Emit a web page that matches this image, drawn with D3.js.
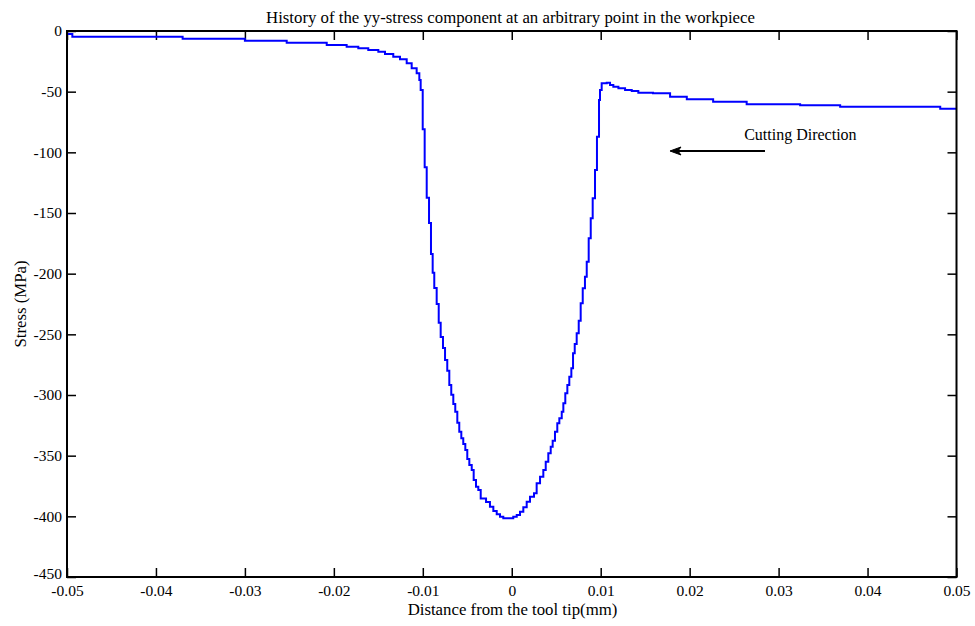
<!DOCTYPE html>
<html>
<head>
<meta charset="utf-8">
<script src="https://cdn.jsdelivr.net/npm/d3@7"></script>
<style>
  html, body { margin: 0; padding: 0; background: #fff; }
  svg { display: block; }
  text { font-family: "Liberation Serif", "Times New Roman", serif; fill: #000; }
</style>
</head>
<body>
<svg id="chart" width="975" height="626"></svg>
<script>
// ---- data ----
const distance = [
  -0.0500, -0.0494, -0.0370, -0.0300, -0.0253, -0.0208, -0.01856, -0.01725, -0.01613, -0.0150,
  -0.01425, -0.01332, -0.01256, -0.01181, -0.01125, -0.01069, -0.01039, -0.01024, -0.01001,
  -0.00979, -0.00956, -0.00930, -0.00908, -0.00889, -0.00871, -0.00844, -0.00821, -0.00799, -0.00773,
  -0.00750, -0.00725, -0.00702, -0.00680, -0.00657, -0.00635, -0.00612, -0.00590, -0.00567, -0.00545,
  -0.00522, -0.00500, -0.00477, -0.00450, -0.00428, -0.00402, -0.00376, -0.00349,
  -0.00289, -0.00245, -0.00207, -0.00169, -0.00132, -0.00095, -0.0002, 0.00017, 0.00056, 0.00093,
  0.0013, 0.00168, 0.00205, 0.0025, 0.0028, 0.00318, 0.00355, 0.00382, 0.00411, 0.00438,
  0.0046, 0.00486, 0.00512, 0.00535, 0.00562, 0.0058, 0.00602, 0.00625, 0.00647, 0.0067,
  0.00689, 0.00708, 0.0073, 0.00753, 0.00775, 0.00798, 0.00823, 0.00843, 0.00865, 0.00888,
  0.0091, 0.00936, 0.00958, 0.00981, 0.00992, 0.01011, 0.01068, 0.01105, 0.01142, 0.01199,
  0.01274, 0.01349, 0.01423, 0.01588, 0.0178, 0.01968, 0.02264, 0.02641, 0.03242, 0.03692,
  0.04817, 0.0500
];
const stress = [
  -2.5, -4.7, -6.3, -8.0, -9.6, -11.5, -12.9, -14.3, -15.7, -17.1,
  -19.0, -21.2, -23.3, -26.6, -30.7, -34.9, -40.4, -48.6, -81.0,
  -112.3, -137.4, -158.2, -183.8, -199.2, -211.8, -225.0, -240.4, -252.2, -261.3,
  -271.2, -280.0, -291.8, -299.8, -307.4, -313.8, -322.8, -330.3, -335.7, -340.4,
  -345.3, -352.8, -357.7, -361.8, -370.1, -375.6, -378.3, -385.2,
  -388.2, -392.1, -395.6, -398.3, -400.3, -401.6, -401.6, -400.3, -398.9, -396.2,
  -392.6, -388.0, -383.8, -381.0, -372.8, -367.3, -361.8, -355.0, -348.1, -342.6,
  -337.7, -330.3, -323.3, -319.2, -313.8, -306.9, -298.6, -291.8, -284.9, -278.0,
  -265.6, -258.0, -249.2, -238.8, -224.4, -212.1, -202.5, -190.1, -170.9, -154.4,
  -137.9, -114.6, -87.1, -56.9, -48.6, -43.1, -42.6, -44.5, -45.9, -47.2,
  -48.6, -49.5, -50.9, -51.3, -54.2, -56.3, -58.3, -60.4, -61.2, -62.4,
  -64.0, -64.0
];
const xTicks = [-0.05, -0.04, -0.03, -0.02, -0.01, 0, 0.01, 0.02, 0.03, 0.04, 0.05];
const xTickLabels = ["-0.05", "-0.04", "-0.03", "-0.02", "-0.01", "0", "0.01", "0.02", "0.03", "0.04", "0.05"];
const yTicks = [-450, -400, -350, -300, -250, -200, -150, -100, -50, 0];
const yTickLabels = ["-450", "-400", "-350", "-300", "-250", "-200", "-150", "-100", "-50", "0"];
const titleText = "History of the yy-stress component at an arbitrary point in the workpiece";
const xLabelText = "Distance from the tool tip(mm)";
const yLabelText = "Stress (MPa)";
const annotationText = "Cutting Direction";
const annotationTextPos = [0.02613, -89.8];
const arrowFrom = [0.02847, -98.9];
const arrowTo = [0.01779, -98.9];

// ---- layout ----
const W = 975, H = 626;
const pLeft = 67, pRight = 956.5, pTop = 31, pBottom = 577;
const fsTick = 15.5, fsLabel = 16.8, fsNote = 16;

const svg = d3.select("#chart");
svg.append("rect").attr("width", W).attr("height", H).attr("fill", "#fff");

const x = d3.scaleLinear().domain([-0.05, 0.05]).range([pLeft, pRight]);
const y = d3.scaleLinear().domain([-450, 0]).range([pBottom, pTop]);

const fmtX = d => xTickLabels[xTicks.indexOf(d)];
const fmtY = d => yTickLabels[yTicks.indexOf(d)];

// axes (ticks inward, box style)
const gB = svg.append("g").attr("transform", `translate(0,${pBottom})`)
  .call(d3.axisBottom(x).tickValues(xTicks).tickFormat(fmtX).tickSizeInner(-9).tickSizeOuter(0).tickPadding(8));
const gT = svg.append("g").attr("transform", `translate(0,${pTop})`)
  .call(d3.axisTop(x).tickValues(xTicks).tickFormat("").tickSizeInner(-9).tickSizeOuter(0));
const gL = svg.append("g").attr("transform", `translate(${pLeft},0)`)
  .call(d3.axisLeft(y).tickValues(yTicks).tickFormat(fmtY).tickSizeInner(-9).tickSizeOuter(0).tickPadding(5));
const gR = svg.append("g").attr("transform", `translate(${pRight},0)`)
  .call(d3.axisRight(y).tickValues(yTicks).tickFormat("").tickSizeInner(-9).tickSizeOuter(0));

[gB, gT, gL, gR].forEach(g => {
  g.select(".domain").remove();
  g.selectAll(".tick line").attr("stroke", "#000").attr("stroke-width", 1.5);
  g.selectAll(".tick text").attr("font-family", '"Liberation Serif", "Times New Roman", serif')
    .attr("font-size", fsTick).attr("fill", "#000");
});
// lowest y label sits just above the x tick labels
gL.selectAll(".tick text").filter(d => d === -450).attr("dy", "0.1em");

// data line
const pts = d3.zip(distance, stress);
const line = d3.line().x(d => x(d[0])).y(d => y(d[1])).curve(d3.curveStepAfter);
svg.append("path").datum(pts)
  .attr("d", line)
  .attr("fill", "none")
  .attr("stroke", "#0000ff")
  .attr("stroke-width", 2)
  .attr("stroke-linejoin", "miter");

// box
svg.append("rect")
  .attr("x", pLeft).attr("y", pTop)
  .attr("width", pRight - pLeft).attr("height", pBottom - pTop)
  .attr("fill", "none").attr("stroke", "#000").attr("stroke-width", 2);

// title & labels
svg.append("text").attr("x", 510.5).attr("y", 22.5)
  .attr("text-anchor", "middle").attr("font-size", fsLabel).text(titleText);
svg.append("text").attr("x", 512.5).attr("y", 614.5)
  .attr("text-anchor", "middle").attr("font-size", fsLabel).text(xLabelText);
svg.append("text")
  .attr("transform", `translate(26,${(pTop + pBottom) / 2}) rotate(-90)`)
  .attr("text-anchor", "middle").attr("font-size", fsLabel).text(yLabelText);

// annotation
svg.append("text").attr("x", x(annotationTextPos[0])).attr("y", y(annotationTextPos[1]))
  .attr("font-size", fsNote).text(annotationText);
const ax1 = x(arrowFrom[0]), ay1 = y(arrowFrom[1]);
const ax2 = x(arrowTo[0]), ay2 = y(arrowTo[1]);
svg.append("line").attr("x1", ax1).attr("y1", ay1).attr("x2", ax2 + 4).attr("y2", ay2)
  .attr("stroke", "#000").attr("stroke-width", 2);
svg.append("path")
  .attr("d", `M${ax2},${ay2} L${ax2 + 11},${ay2 - 4} L${ax2 + 8},${ay2} L${ax2 + 11},${ay2 + 4} Z`)
  .attr("fill", "#000").attr("stroke", "#000").attr("stroke-width", 1);
</script>
</body>
</html>
